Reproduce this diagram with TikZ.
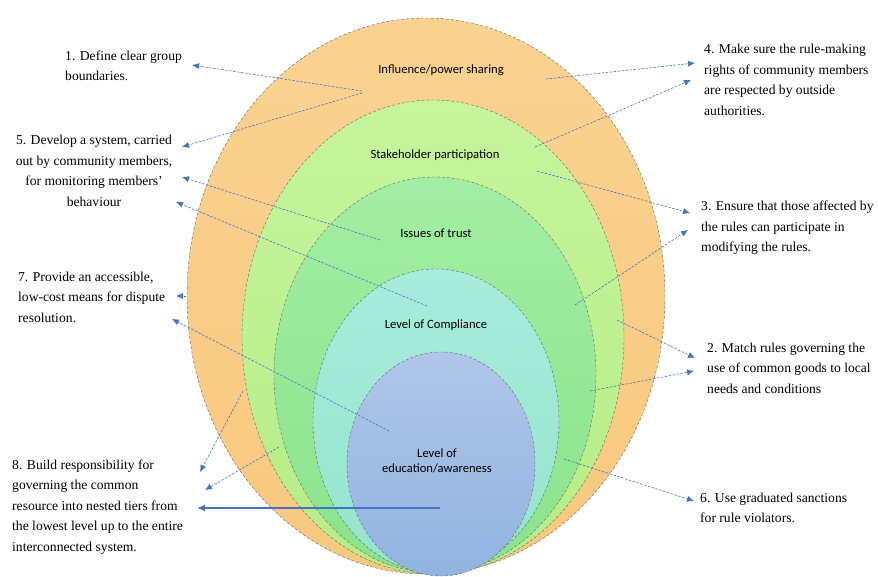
\documentclass[tikz,border=0pt]{standalone}
\usepackage{fontspec}
\setmainfont{Liberation Serif}
\newfontfamily\lblfont{Carlito}
\usetikzlibrary{arrows.meta}

\definecolor{ringA}{HTML}{FAD291}
\definecolor{ringAb}{HTML}{F8C87E}
\definecolor{ringB}{HTML}{C6F59C}
\definecolor{ringBb}{HTML}{B6EC86}
\definecolor{ringC}{HTML}{A2EEA4}
\definecolor{ringCb}{HTML}{8AE38B}
\definecolor{ringD}{HTML}{A8ECDC}
\definecolor{ringDb}{HTML}{94E4CB}
\definecolor{ringE}{HTML}{AFC6E8}
\definecolor{ringEb}{HTML}{91B3E0}
\definecolor{arrowblue}{HTML}{4472C4}

\tikzset{
  ring/.style={draw=black!60, densely dashed, line width=0.4pt},
  lbl/.style={font=\lblfont\fontsize{12.6}{14.5}\selectfont, align=center, inner sep=0pt},
  rule/.style={font=\fontsize{13.6}{20.5}\selectfont, align=left, inner sep=0pt, anchor=west},
  link/.style={draw=arrowblue, line width=0.6pt, dash pattern=on 2.5pt off 1.5pt,
    -{Latex[length=7pt,width=6pt]}},
  solidlink/.style={draw=arrowblue, line width=1.2pt, -{Latex[length=8pt,width=7pt]}}
}

\begin{document}
\begin{tikzpicture}[x=1pt,y=-1pt]
  \useasboundingbox (0,0) rectangle (878,577);

  % nested ellipses
  \path[ring, top color=ringA, bottom color=ringAb] (426,296) ellipse [x radius=239, y radius=278];
  \path[ring, top color=ringB, bottom color=ringBb] (433,337) ellipse [x radius=191, y radius=237];
  \path[ring, top color=ringC, bottom color=ringCb] (435,375) ellipse [x radius=161, y radius=198];
  \path[ring, top color=ringD, bottom color=ringDb] (436,421) ellipse [x radius=123, y radius=152];
  \path[ring, top color=ringE, bottom color=ringEb] (441,464) ellipse [x radius=94, y radius=112];

  \node[lbl] (infl)  at (441,70)  {Influence/power sharing};
  \node[lbl] (stake) at (435,155) {Stakeholder participation};
  \node[lbl] (trust) at (436,233) {Issues of trust};
  \node[lbl] (compl) at (436,325) {Level of Compliance};
  \node[lbl] (educ)  at (437,461) {Level of\\education/awareness};

  % principles
  \node[rule] (p1) at (65,66)   {1. Define clear group\\boundaries.};
  \node[rule, align=center, anchor=center] (p5) at (94,171)
    {5. Develop a system, carried\\out by community members,\\for monitoring members'\\behaviour};
  \node[rule] (p7) at (18,297)  {7. Provide an accessible,\\low-cost means for dispute\\resolution.};
  \node[rule] (p8) at (12,507)  {8. Build responsibility for\\governing the common\\resource into nested tiers from\\the lowest level up to the entire\\interconnected system.};
  \node[rule] (p4) at (704,80)  {4. Make sure the rule-making\\rights of community members\\are respected by outside\\authorities.};
  \node[rule] (p3) at (701,228) {3. Ensure that those affected by\\the rules can participate in\\modifying the rules.};
  \node[rule] (p2) at (707,368) {2. Match rules governing the\\use of common goods to local\\needs and conditions};
  \node[rule] (p6) at (700,508) {6. Use graduated sanctions\\for rule violators.};

  % arrow ends
  \foreach \n/\a/\b in {s1/362/91, t1/192/65, s5a/362/93, t5a/182/147,
      s5b/380/240, t5b/182/177, s5c/427/306, t5c/176/202,
      s7a/186/296, t7a/176/296, s7b/389/431, t7b/172/319,
      s8a/243/391, t8a/200/472, s8b/279/447, t8b/205/490,
      s8c/440/508, t8c/197/508,
      s4a/546/79, t4a/695/63, s4b/535/147, t4b/691/80,
      s3a/537/171, t3a/690/213, s3b/575/305, t3b/688/230,
      s2a/617/320, t2a/695/358, s2b/590/391, t2b/694/371,
      s6/564/459, t6/694/501}
    \coordinate (\n) at (\a,\b);

  \draw[link] (s1) -- (t1);
  \draw[link] (s5a) -- (t5a);
  \draw[link] (s5b) -- (t5b);
  \draw[link] (s5c) -- (t5c);
  \draw[link] (s7a) -- (t7a);
  \draw[link] (s7b) -- (t7b);
  \draw[link] (s8a) -- (t8a);
  \draw[link] (s8b) -- (t8b);
  \draw[solidlink] (s8c) -- (t8c);
  \draw[link] (s4a) -- (t4a);
  \draw[link] (s4b) -- (t4b);
  \draw[link] (s3a) -- (t3a);
  \draw[link] (s3b) -- (t3b);
  \draw[link] (s2a) -- (t2a);
  \draw[link] (s2b) -- (t2b);
  \draw[link] (s6) -- (t6);
\end{tikzpicture}
\end{document}
